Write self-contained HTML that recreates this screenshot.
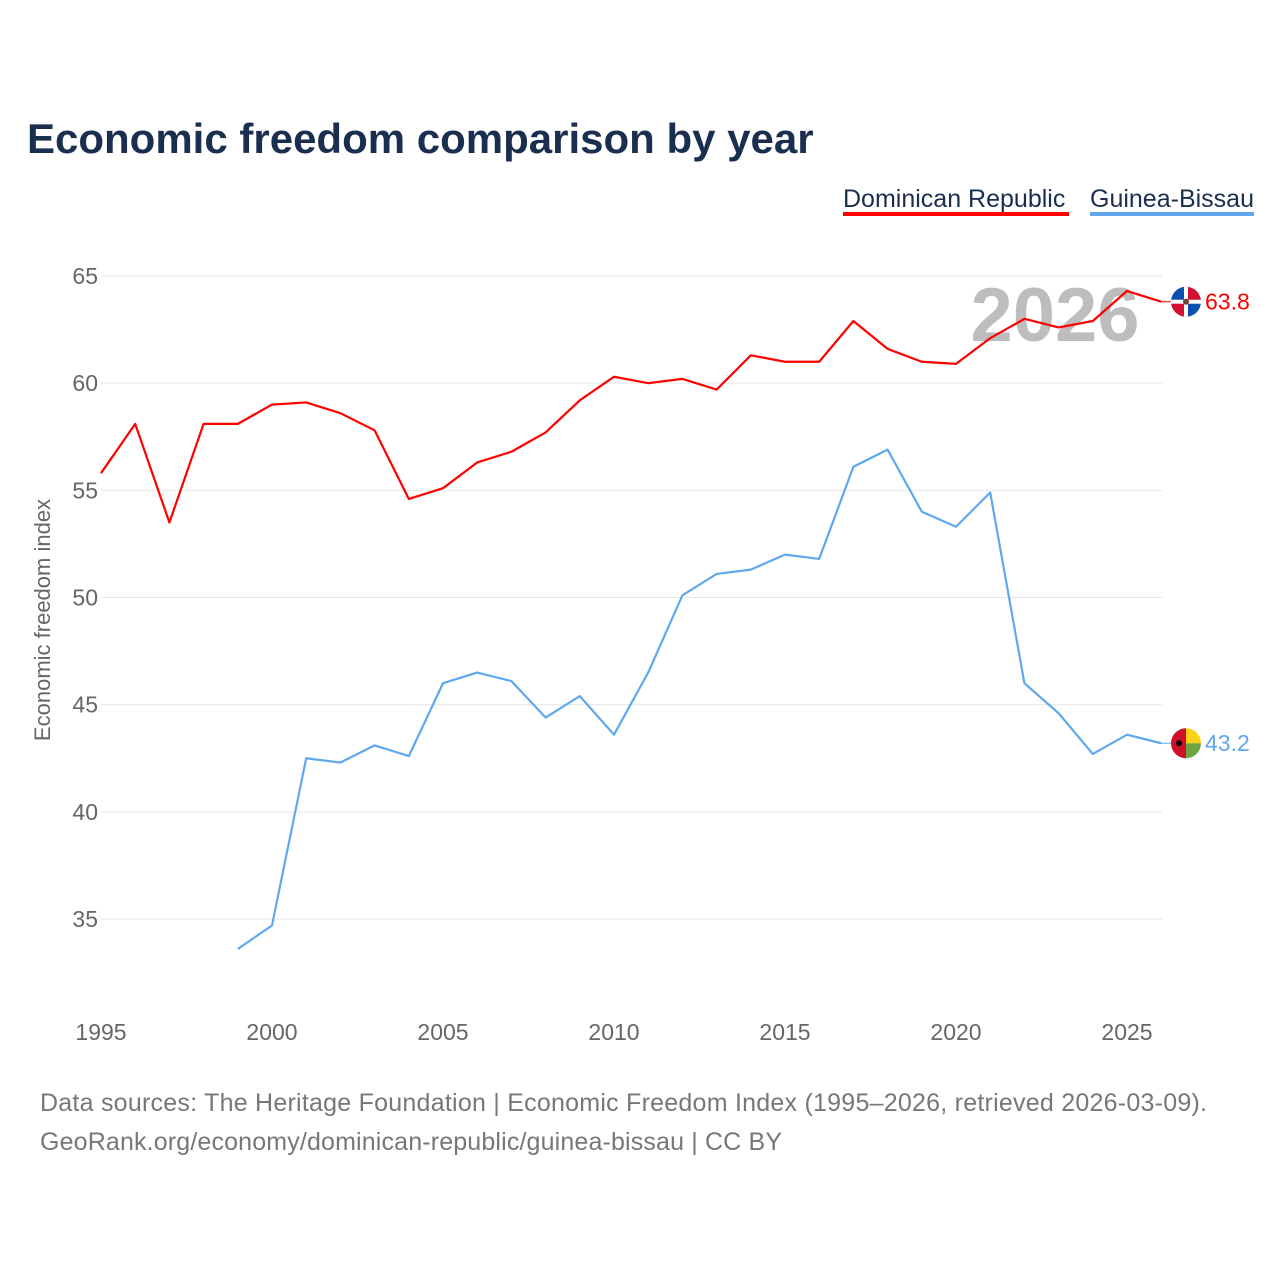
<!DOCTYPE html>
<html><head><meta charset="utf-8"><style>
body{margin:0;background:#fff;width:1280px;height:1280px;overflow:hidden;font-family:"Liberation Sans",sans-serif}
</style></head><body>
<svg id="c" width="1280" height="1280" xmlns="http://www.w3.org/2000/svg">
<text x="27" y="153" font-size="42" font-weight="bold" fill="#1a2e4f">Economic freedom comparison by year</text>
<g>
<text x="843" y="207" font-size="25" fill="#1a2e4f">Dominican Republic</text>
<rect x="843" y="212" width="226" height="4" fill="#ff0000"/>
<text x="1090" y="207" font-size="25" fill="#1a2e4f">Guinea-Bissau</text>
<rect x="1090" y="212" width="164" height="4" fill="#5fa8f0"/>
</g>
<text x="1055" y="341" font-size="76" font-weight="bold" fill="#bdbdbd" text-anchor="middle">2026</text>
<g id="grid"></g><g id="xt"></g><g id="series"></g>
<text transform="translate(50,620) rotate(-90)" font-size="22" fill="#666" text-anchor="middle">Economic freedom index</text>
<text x="40" y="1111" font-size="25" fill="#777" textLength="1167">Data sources: The Heritage Foundation | Economic Freedom Index (1995–2026, retrieved 2026-03-09).</text>
<text x="40" y="1150" font-size="25" fill="#777" textLength="742">GeoRank.org/economy/dominican-republic/guinea-bissau | CC BY</text>
</svg>
<script>
const yTicks=[35,40,45,50,55,60,65];
const xTicks=[1995,2000,2005,2010,2015,2020,2025];
const drYears=[1995,1996,1997,1998,1999,2000,2001,2002,2003,2004,2005,2006,2007,2008,2009,2010,2011,2012,2013,2014,2015,2016,2017,2018,2019,2020,2021,2022,2023,2024,2025,2026];
const drValues=[55.8,58.1,53.5,58.1,58.1,59.0,59.1,58.6,57.8,54.6,55.1,56.3,56.8,57.7,59.2,60.3,60.0,60.2,59.7,61.3,61.0,61.0,62.9,61.6,61.0,60.9,62.1,63.0,62.6,62.9,64.3,63.8];
const gbYears=[1999,2000,2001,2002,2003,2004,2005,2006,2007,2008,2009,2010,2011,2012,2013,2014,2015,2016,2017,2018,2019,2020,2021,2022,2023,2024,2025,2026];
const gbValues=[33.6,34.7,42.5,42.3,43.1,42.6,46.0,46.5,46.1,44.4,45.4,43.6,46.5,50.1,51.1,51.3,52.0,51.8,56.1,56.9,54.0,53.3,54.9,46.0,44.6,42.7,43.6,43.2];
const NS='http://www.w3.org/2000/svg';
const x=v=>101+(v-1995)*(1127-101)/30;
const y=v=>276+(65-v)*(919-276)/30;
function mk(t,a,p){const e=document.createElementNS(NS,t);for(const k in a)e.setAttribute(k,a[k]);p.appendChild(e);return e;}
const grid=document.getElementById('grid');
yTicks.forEach(t=>{
 const l=mk('line',{x1:101,x2:1162,y1:y(t),y2:y(t),stroke:'#e6e6e6','stroke-width':1},grid);
 
 
 const tx=mk('text',{x:98,y:y(t)+8,'font-size':23,fill:'#666','text-anchor':'end'},grid);tx.textContent=t;
 
 
});
const xt=document.getElementById('xt');
xTicks.forEach(t=>{
 const tx=mk('text',{x:x(t),y:1040,'font-size':23,fill:'#666','text-anchor':'middle'},xt);tx.textContent=t;
 
 
});
const S=document.getElementById('series');
function flag(cy,name){
 const g=mk('g',{},S);
 
 
 const cx=1186,r=15;
 if(name==='dominican-republic'){
  mk('path',{d:`M${cx},${cy} L${cx-r},${cy} A${r},${r} 0 0 1 ${cx},${cy-r} Z`,fill:'#0b4fb0'},g);
  mk('path',{d:`M${cx},${cy} L${cx},${cy-r} A${r},${r} 0 0 1 ${cx+r},${cy} Z`,fill:'#d21034'},g);
  mk('path',{d:`M${cx},${cy} L${cx+r},${cy} A${r},${r} 0 0 1 ${cx},${cy+r} Z`,fill:'#0b4fb0'},g);
  mk('path',{d:`M${cx},${cy} L${cx},${cy+r} A${r},${r} 0 0 1 ${cx-r},${cy} Z`,fill:'#d21034'},g);
  mk('rect',{x:cx-r,y:cy-2,width:2*r,height:4,fill:'#fff'},g);
  mk('rect',{x:cx-2,y:cy-r,width:4,height:2*r,fill:'#fff'},g);
  mk('circle',{cx:cx,cy:cy,r:3,fill:'#6b3e2e'},g);
 }else{
  mk('path',{d:`M${cx},${cy-r} A${r},${r} 0 0 1 ${cx+r},${cy} L${cx},${cy} Z`,fill:'#fcd116'},g);
  mk('path',{d:`M${cx},${cy} L${cx+r},${cy} A${r},${r} 0 0 1 ${cx},${cy+r} Z`,fill:'#6da544'},g);
  mk('path',{d:`M${cx},${cy-r} A${r},${r} 0 0 0 ${cx},${cy+r} Z`,fill:'#ce1126'},g);
  mk('circle',{cx:cx-7,cy:cy,r:3,fill:'#000'},g);
 }
}
function line(ys,vs,col,name){
 const p=mk('polyline',{points:ys.map((yr,i)=>x(yr)+','+y(vs[i])).join(' '),fill:'none',stroke:col,'stroke-width':2.2,'stroke-linejoin':'round'},S);
 
 
 const lv=vs[vs.length-1],ly=y(lv);
 const ln=mk('line',{x1:x(ys[ys.length-1]),x2:1171,y1:ly,y2:ly,stroke:col,'stroke-width':1},S);
 
 
 flag(ly,name);
 const t=mk('text',{x:1205,y:ly+8,'font-size':23,fill:col},S);t.textContent=lv.toFixed(1);
 
 
}
line(drYears,drValues,'#ff0000','dominican-republic');
line(gbYears,gbValues,'#5fa8f0','guinea-bissau');
</script>
</body></html>
